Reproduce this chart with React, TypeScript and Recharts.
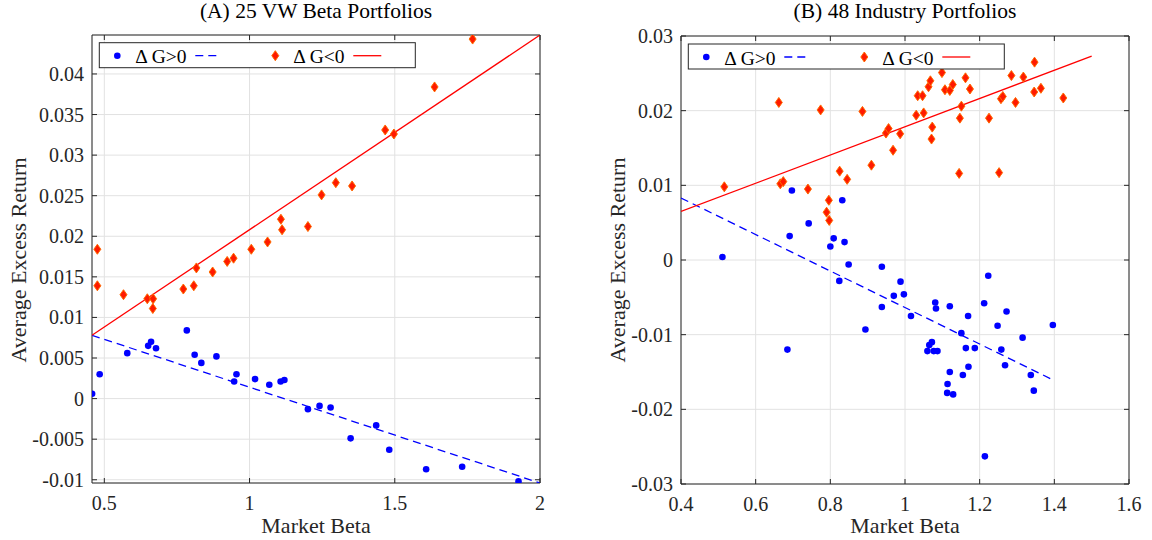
import React from 'react';
import {
  ComposedChart,
  Scatter,
  XAxis,
  YAxis,
  CartesianGrid,
  ReferenceArea,
} from 'recharts';

const FONT = '"Liberation Serif", "Times New Roman", Times, serif';
const INK = '#262626';
const GRID = '#e2e2e2';
const BLUE = '#0000ff';
const RED = '#ff0000';

// (A) 25 VW beta portfolios
const aPosBeta = [0.458, 0.484, 0.579, 0.651, 0.661, 0.678, 0.784, 0.811, 0.834, 0.886, 0.947, 0.955, 1.019, 1.068, 1.107, 1.12, 1.201, 1.241, 1.279, 1.348, 1.436, 1.481, 1.608, 1.732, 1.926];
const aPosRet = [0.0006, 0.003, 0.0056, 0.0065, 0.007, 0.0062, 0.0084, 0.0054, 0.0044, 0.0052, 0.0021, 0.003, 0.0024, 0.0017, 0.0021, 0.0023, -0.0013, -0.0009, -0.0011, -0.0049, -0.0033, -0.0063, -0.0087, -0.0084, -0.0102];
const aNegBeta = [0.476, 0.476, 0.566, 0.648, 0.668, 0.667, 0.772, 0.808, 0.817, 0.873, 0.923, 0.945, 1.006, 1.062, 1.108, 1.112, 1.201, 1.248, 1.297, 1.353, 1.467, 1.497, 1.637, 1.768];
const aNegRet = [0.0184, 0.0139, 0.0128, 0.0123, 0.0123, 0.0111, 0.0135, 0.0139, 0.0161, 0.0156, 0.0169, 0.0173, 0.0184, 0.0193, 0.0221, 0.0208, 0.0212, 0.0251, 0.0266, 0.0262, 0.0331, 0.0326, 0.0384, 0.0443];
const aPosFitBeta = [0.4576, 2];
const aPosFitRet = [0.0078, -0.0104];
const aNegFitBeta = [0.4576, 2];
const aNegFitRet = [0.0078, 0.0448];
const aXTicks = [0.5, 1, 1.5, 2];
const aYTicks = [-0.01, -0.005, 0, 0.005, 0.01, 0.015, 0.02, 0.025, 0.03, 0.035, 0.04];

// (B) 48 industry portfolios
const bPosBeta = [0.511, 0.685, 0.691, 0.697, 0.742, 0.8, 0.809, 0.824, 0.832, 0.838, 0.849, 0.894, 0.938, 0.938, 0.97, 0.988, 0.997, 1.016, 1.06, 1.065, 1.072, 1.077, 1.081, 1.083, 1.087, 1.113, 1.114, 1.12, 1.12, 1.129, 1.151, 1.155, 1.163, 1.169, 1.17, 1.187, 1.212, 1.214, 1.223, 1.248, 1.258, 1.268, 1.272, 1.315, 1.337, 1.345, 1.396];
const bPosRet = [0.0004, -0.012, 0.0032, 0.0093, 0.0049, 0.0018, 0.0029, -0.0028, 0.008, 0.0024, -0.0006, -0.0093, -0.0009, -0.0063, -0.0048, -0.0029, -0.0046, -0.0075, -0.0122, -0.0114, -0.011, -0.0122, -0.0057, -0.0065, -0.0122, -0.0178, -0.0166, -0.0062, -0.015, -0.018, -0.0098, -0.0154, -0.0118, -0.0075, -0.0143, -0.0118, -0.0058, -0.0263, -0.0021, -0.0088, -0.012, -0.0141, -0.0069, -0.0104, -0.0154, -0.0175, -0.0087];
const bNegBeta = [0.516, 0.662, 0.666, 0.674, 0.74, 0.774, 0.796, 0.79, 0.797, 0.825, 0.845, 0.886, 0.91, 0.949, 0.956, 0.968, 0.987, 1.03, 1.034, 1.047, 1.05, 1.063, 1.068, 1.073, 1.071, 1.099, 1.107, 1.12, 1.128, 1.151, 1.147, 1.145, 1.162, 1.174, 1.225, 1.252, 1.257, 1.262, 1.285, 1.296, 1.317, 1.347, 1.346, 1.364, 1.424];
const bNegRet = [0.0098, 0.0211, 0.0102, 0.0105, 0.0095, 0.0201, 0.008, 0.0064, 0.0053, 0.0119, 0.0108, 0.0199, 0.0127, 0.017, 0.0176, 0.0147, 0.0169, 0.0194, 0.022, 0.022, 0.0197, 0.0232, 0.024, 0.0178, 0.0162, 0.0251, 0.0228, 0.0227, 0.0235, 0.0206, 0.019, 0.0116, 0.0244, 0.0229, 0.019, 0.0117, 0.0216, 0.0219, 0.0247, 0.0211, 0.0245, 0.0265, 0.0225, 0.023, 0.0217];
const bPosFitBeta = [0.4, 1.39];
const bPosFitRet = [0.0083, -0.0159];
const bNegFitBeta = [0.4, 1.5];
const bNegFitRet = [0.0065, 0.0273];
const bXTicks = [0.4, 0.6, 0.8, 1, 1.2, 1.4, 1.6];
const bYTicks = [-0.03, -0.02, -0.01, 0, 0.01, 0.02, 0.03];

const toPoints = (xs: number[], ys: number[]) => xs.map((x, i) => ({ x, y: ys[i] }));

const BlueDot = (props: any) => {
  const { cx, cy } = props;
  if (cx == null || cy == null) return <g />;
  return <circle cx={cx} cy={cy} r={3.3} fill={BLUE} />;
};

const RedDiamond = (props: any) => {
  const { cx, cy } = props;
  if (cx == null || cy == null) return <g />;
  return (
    <polygon
      points={`${cx},${cy - 5} ${cx + 3.5},${cy} ${cx},${cy + 5} ${cx - 3.5},${cy}`}
      fill="#ff1a00"
      stroke="#ff6a00"
      strokeWidth={1}
    />
  );
};

const NoShape = () => <g />;

interface PanelProps {
  width: number;
  left: number; // plot left (chart coords)
  right: number; // plot right
  top: number;
  bottom: number;
  xDomain: [number, number];
  yDomain: [number, number];
  xTicks: number[];
  yTicks: number[];
  pos: { x: number; y: number }[];
  neg: { x: number; y: number }[];
  posFit: { x: number; y: number }[];
  negFit: { x: number; y: number }[];
}

const Panel: React.FC<PanelProps> = (p) => {
  const height = 540;
  const XAXIS_H = 30;

  const YTick = (props: any) => {
    const { x, y, payload } = props;
    return (
      <g>
        <text x={x} y={y + 7} textAnchor="end" fill={INK} fontSize={20} style={{ fontFamily: FONT }}>
          {String(payload.value)}
        </text>
        <line x1={p.left} x2={p.left + 5} y1={y} y2={y} stroke={INK} />
        <line x1={p.right - 5} x2={p.right} y1={y} y2={y} stroke={INK} />
      </g>
    );
  };

  const XTick = (props: any) => {
    const { x, y, payload } = props;
    return (
      <g>
        <text x={x} y={y + 19} textAnchor="middle" fill={INK} fontSize={20} style={{ fontFamily: FONT }}>
          {String(payload.value)}
        </text>
        <line x1={x} x2={x} y1={p.bottom} y2={p.bottom - 5} stroke={INK} />
        <line x1={x} x2={x} y1={p.top} y2={p.top + 5} stroke={INK} />
      </g>
    );
  };

  return (
    <ComposedChart
      width={p.width}
      height={height}
      margin={{ top: p.top, right: p.width - p.right, bottom: height - p.bottom - XAXIS_H, left: 0 }}
      style={{ fontFamily: FONT }}
    >
      <CartesianGrid stroke={GRID} strokeWidth={1} />
      <XAxis
        type="number"
        dataKey="x"
        domain={p.xDomain}
        ticks={p.xTicks}
        allowDataOverflow
        axisLine={false}
        tickLine={false}
        tickSize={6}
        tickMargin={2}
        height={XAXIS_H}
        tick={<XTick />}
        interval={0}
      />
      <YAxis
        type="number"
        dataKey="y"
        domain={p.yDomain}
        ticks={p.yTicks}
        allowDataOverflow
        axisLine={false}
        tickLine={false}
        tickSize={6}
        tickMargin={2}
        width={p.left}
        tick={<YTick />}
        interval={0}
      />
      <Scatter
        data={p.posFit}
        shape={<NoShape />}
        line={{ stroke: BLUE, strokeWidth: 1.3, strokeDasharray: '8 5' }}
        isAnimationActive={false}
      />
      <Scatter
        data={p.negFit}
        shape={<NoShape />}
        line={{ stroke: RED, strokeWidth: 1.3 }}
        isAnimationActive={false}
      />
      <Scatter data={p.pos} shape={<BlueDot />} isAnimationActive={false} />
      <Scatter data={p.neg} shape={<RedDiamond />} isAnimationActive={false} />
      <ReferenceArea
        x1={p.xDomain[0]}
        x2={p.xDomain[1]}
        y1={p.yDomain[0]}
        y2={p.yDomain[1]}
        fill="none"
        fillOpacity={0}
        stroke={INK}
        strokeWidth={1}
        ifOverflow="visible"
      />
    </ComposedChart>
  );
};

const LegendBox = ({ x, y }: { x: number; y: number }) => (
  <g transform={`translate(${x},${y})`}>
    <rect x={0} y={0} width={316} height={25} fill="#fff" stroke={INK} strokeWidth={1} />
    <circle cx={18} cy={13} r={3.3} fill={BLUE} />
    <text x={36} y={20.5} fontSize={19.5} fill="#000">
      Δ G&gt;0
    </text>
    <line x1={96} x2={121} y1={13} y2={13} stroke={BLUE} strokeWidth={1.3} strokeDasharray="8 5" />
    <polygon points="176,8 179.5,13 176,18 172.5,13" fill="#ff1a00" stroke="#ff6a00" strokeWidth={1} />
    <text x={194} y={20.5} fontSize={19.5} fill="#000">
      Δ G&lt;0
    </text>
    <line x1={254} x2={282} y1={13} y2={13} stroke={RED} strokeWidth={1.3} />
  </g>
);

export default function App() {
  return (
    <div
      style={{
        position: 'absolute',
        left: 0,
        top: 0,
        width: 1152,
        height: 540,
        background: '#fff',
        fontFamily: FONT,
      }}
    >
      <div style={{ position: 'absolute', left: 0, top: 0 }}>
        <Panel
          width={576}
          left={92}
          right={540}
          top={35}
          bottom={483}
          xDomain={[0.4576, 2]}
          yDomain={[-0.0104, 0.0448]}
          xTicks={aXTicks}
          yTicks={aYTicks}
          pos={toPoints(aPosBeta, aPosRet)}
          neg={toPoints(aNegBeta, aNegRet)}
          posFit={toPoints(aPosFitBeta, aPosFitRet)}
          negFit={toPoints(aNegFitBeta, aNegFitRet)}
        />
      </div>
      <div style={{ position: 'absolute', left: 576, top: 0 }}>
        <Panel
          width={576}
          left={105}
          right={553}
          top={36}
          bottom={484}
          xDomain={[0.4, 1.6]}
          yDomain={[-0.03, 0.03]}
          xTicks={bXTicks}
          yTicks={bYTicks}
          pos={toPoints(bPosBeta, bPosRet)}
          neg={toPoints(bNegBeta, bNegRet)}
          posFit={toPoints(bPosFitBeta, bPosFitRet)}
          negFit={toPoints(bNegFitBeta, bNegFitRet)}
        />
      </div>
      <svg
        width={1152}
        height={540}
        style={{ position: 'absolute', left: 0, top: 0, pointerEvents: 'none', fontFamily: FONT }}
      >
        <text x={316} y={18} textAnchor="middle" fontSize={21.5} fill="#000">
          (A) 25 VW Beta Portfolios
        </text>
        <text x={905} y={18} textAnchor="middle" fontSize={21.5} fill="#000">
          (B) 48 Industry Portfolios
        </text>
        <text x={316} y={533} textAnchor="middle" fontSize={22} fill={INK}>
          Market Beta
        </text>
        <text x={905} y={533} textAnchor="middle" fontSize={22} fill={INK}>
          Market Beta
        </text>
        <text transform="translate(26,260) rotate(-90)" textAnchor="middle" fontSize={22} fill={INK}>
          Average Excess Return
        </text>
        <text transform="translate(625,260) rotate(-90)" textAnchor="middle" fontSize={22} fill={INK}>
          Average Excess Return
        </text>
        <LegendBox x={99.3} y={42.7} />
        <LegendBox x={688.3} y={44} />
      </svg>
    </div>
  );
}
